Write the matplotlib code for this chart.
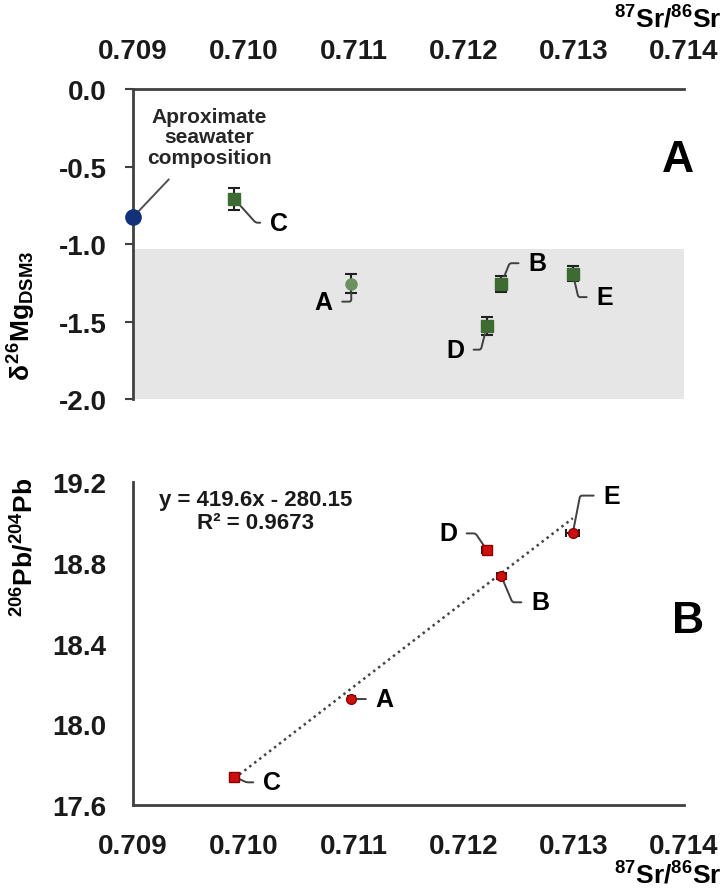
import matplotlib
matplotlib.use('Agg')
import matplotlib.pyplot as plt
import numpy as np

plt.rcParams['font.family'] = ['Liberation Sans', 'DejaVu Sans']
plt.rcParams['font.weight'] = 'bold'
plt.rcParams['axes.labelweight'] = 'bold'
plt.rcParams['mathtext.fontset'] = 'custom'
plt.rcParams['mathtext.rm'] = 'Liberation Sans:bold'
plt.rcParams['mathtext.bf'] = 'Liberation Sans:bold'
plt.rcParams['mathtext.it'] = 'Liberation Sans:bold'

# samples A..E
samples = ['A', 'B', 'C', 'D', 'E']
sr = [0.71098, 0.71234, 0.70992, 0.71221, 0.71299]
sr_err = [0.00003, 0.00004, 0.00004, 0.00004, 0.00006]
mg = [-1.255, -1.258, -0.71, -1.529, -1.19]
mg_err = [0.06, 0.05, 0.07, 0.06, 0.05]
pb = [18.125, 18.735, 17.74, 18.863, 18.947]
pb_err = [0.01, 0.01, 0.01, 0.01, 0.01]

# seawater reference
sw_sr = 0.709
sw_mg = -0.826
mg_range = (-2.0, -1.03)

# linear fit from the figure
slope = 419.6
intercept = -280.15
r2 = 0.9673

xticks = [0.709, 0.710, 0.711, 0.712, 0.713, 0.714]

axis_col = '#404040'
green_dark = '#3d6b32'
green_light = '#6b9160'
red = '#cc1010'


def leader(ax, s, xy, off, shrink_pt):
    dx, dy, ab = off
    if ab is None:
        cs = 'arc3'
    else:
        cs = 'angle,angleA=0,angleB=%d,rad=2' % ab
    ax.annotate(s, xy=xy, xytext=(dx, dy), textcoords='offset points',
                ha='center', va='center', fontsize=18,
                arrowprops=dict(arrowstyle='-', color='#404040', lw=1.4, shrinkA=5,
                                shrinkB=shrink_pt, connectionstyle=cs))


fig = plt.figure(figsize=(7.27, 8.95), dpi=100)
ax1 = fig.add_axes([0.183, 0.553, 0.758, 0.3464])
ax2 = fig.add_axes([0.183, 0.0994, 0.758, 0.3609])

# ---------- panel A
ax1.axhspan(mg_range[0], mg_range[1], xmin=0.004, xmax=1.0, color='#e6e6e6', zorder=0, lw=0)
markers_a = ['o', 's', 's', 's', 's']
for i in range(5):
    col = green_light if markers_a[i] == 'o' else green_dark
    ax1.errorbar(sr[i], mg[i], yerr=mg_err[i], fmt=markers_a[i], ms=8, color=col,
                 mec=col, ecolor='#202020', elinewidth=1.5, capsize=4, capthick=1.5, zorder=3)
ax1.plot(sw_sr, sw_mg, 'o', ms=11, color='#13307a', clip_on=False, zorder=4)
ax1.annotate('Aproximate\nseawater\ncomposition', xy=(sw_sr, sw_mg), xytext=(55, 58),
             textcoords='offset points', ha='center', va='center', fontsize=15,
             color='#262626', linespacing=1.1,
             arrowprops=dict(arrowstyle='-', color='#505050', lw=1.4, shrinkA=10, shrinkB=0))

# leader labels: offset of label centre in points, angle of the leg at the point
lab_a = {'A': (-20, -13, 90), 'B': (26, 15, 68), 'C': (32, -17, -48),
         'D': (-23, -17, 76), 'E': (23, -17, -77)}
for i, s in enumerate(samples):
    leader(ax1, s, (sr[i], mg[i]), lab_a[s], 6)

ax1.set_xlim(0.709, 0.714)
ax1.set_ylim(-2.0, 0.0)
ax1.xaxis.tick_top()
ax1.set_xticks(xticks)
ax1.set_xticklabels(['%.3f' % t for t in xticks])
ax1.set_yticks([0.0, -0.5, -1.0, -1.5, -2.0])
ax1.set_yticklabels(['%.1f' % t for t in [0.0, -0.5, -1.0, -1.5, -2.0]])
ax1.tick_params(axis='x', length=0, pad=18, labelsize=20, labelcolor='#1a1a1a')
ax1.tick_params(axis='y', length=6, width=1.5, color=axis_col, pad=13, labelsize=20,
                labelcolor='#1a1a1a')
for sp in ['bottom', 'right']:
    ax1.spines[sp].set_visible(False)
for sp in ['top', 'left']:
    ax1.spines[sp].set_color(axis_col)
    ax1.spines[sp].set_linewidth(2)
ax1.set_ylabel(r'$\delta^{26}$Mg$_{\rm DSM3}$', fontsize=19, fontweight='bold')
ax1.yaxis.set_label_coords(-0.172, 0.27)
ax1.text(0.989, 0.774, 'A', transform=ax1.transAxes, fontsize=32, ha='center', va='center')

# ---------- panel B
xfit = np.array([min(sr), max(sr)])
ax2.plot(xfit, slope * xfit + intercept, ls=(0, (1, 1.5)), color='#454545', lw=1.8, zorder=2)
markers_b = ['o', 'o', 's', 's', 'o']
for i in range(5):
    ax2.errorbar(sr[i], pb[i], xerr=sr_err[i], yerr=pb_err[i], fmt=markers_b[i], ms=7,
                 color=red, mec='#900000', ecolor='#202020', elinewidth=1.5, capsize=3,
                 capthick=1.5, zorder=3)

lab_b = {'A': (24, 0, None), 'B': (28, -19, -67), 'C': (27, -4, -25),
         'D': (-28, 12, 124), 'E': (28, 27, 79)}
for i, s in enumerate(samples):
    leader(ax2, s, (sr[i], pb[i]), lab_b[s], 4)

ax2.text(0.222, 0.91, 'y = %.1fx - %.2f\nR² = %.4f' % (slope, -intercept, r2),
         transform=ax2.transAxes, ha='center', va='center', fontsize=16,
         color='#1a1a1a', linespacing=1.15)
ax2.text(1.007, 0.57, 'B', transform=ax2.transAxes, fontsize=32, ha='center', va='center')

ax2.set_xlim(0.709, 0.714)
ax2.set_ylim(17.6, 19.2)
ax2.set_xticks(xticks)
ax2.set_xticklabels(['%.3f' % t for t in xticks])
ax2.set_yticks([17.6, 18.0, 18.4, 18.8, 19.2])
ax2.set_yticklabels(['%.1f' % t for t in [17.6, 18.0, 18.4, 18.8, 19.2]])
ax2.tick_params(axis='x', length=0, pad=20, labelsize=20, labelcolor='#1a1a1a')
ax2.tick_params(axis='y', length=0, pad=19, labelsize=20, labelcolor='#1a1a1a')
for sp in ['top', 'right']:
    ax2.spines[sp].set_visible(False)
for sp in ['bottom', 'left']:
    ax2.spines[sp].set_color(axis_col)
    ax2.spines[sp].set_linewidth(2)
ax2.set_ylabel(r'$^{206}$Pb/$^{204}$Pb', fontsize=19, fontweight='bold')
ax2.yaxis.set_label_coords(-0.172, 0.8)

fig.text(0.993, 0.978, r'$^{87}$Sr/$^{86}$Sr', fontsize=19, fontweight='bold',
         ha='right', va='center')
fig.text(0.993, 0.022, r'$^{87}$Sr/$^{86}$Sr', fontsize=19, fontweight='bold',
         ha='right', va='center')

fig.savefig('out.png', dpi=100)
